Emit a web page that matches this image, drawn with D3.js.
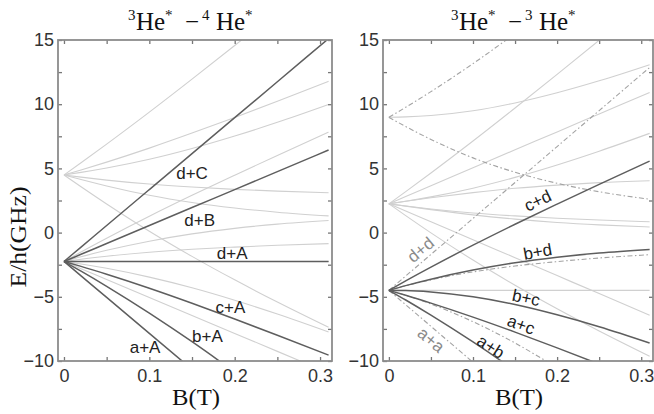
<!DOCTYPE html>
<html>
<head>
<meta charset="utf-8">
<script src="https://cdn.jsdelivr.net/npm/d3@7"></script>
<style>
  body { margin: 0; background: #fff; }
  svg { display: block; }
</style>
</head>
<body>
<svg id="chart" width="654" height="414"></svg>
<script>
// magnetic field grid, tesla
const bField = [0, 0.02, 0.05, 0.1, 0.15, 0.2, 0.25, 0.31];

// 3He* 2^3S1 sublevels (GHz), F=3/2: a..d, F=1/2: e, f
const he3a = [-2.25, -2.81, -3.65, -5.05, -6.45, -7.85, -9.25, -10.93];
const he3b = [-2.25, -2.44, -2.78, -3.47, -4.30, -5.27, -6.34, -7.74];
const he3c = [-2.25, -2.07, -1.84, -1.53, -1.30, -1.13, -0.99, -0.86];
const he3d = [-2.25, -1.69, -0.85, 0.55, 1.95, 3.35, 4.75, 6.43];
const he3e = [4.49, 4.88, 5.49, 6.58, 7.75, 8.97, 10.23, 11.78];
const he3f = [4.49, 4.13, 3.63, 2.91, 2.35, 1.92, 1.59, 1.30];
// 4He* 2^3S1, mJ = -1, 0, +1
const he4A = [0, -0.56, -1.4, -2.8, -4.2, -5.6, -7.0, -8.68];
const he4B = [0, 0, 0, 0, 0, 0, 0, 0];
const he4C = [0, 0.56, 1.4, 2.8, 4.2, 5.6, 7.0, 8.68];

// pair channels
const leftDark = ["d+C", "d+B", "d+A", "c+A", "b+A", "a+A"];
const leftLight = ["a+B", "a+C", "b+B", "b+C", "c+B", "c+C", "e+A", "e+B", "e+C", "f+A", "f+B", "f+C"];
const rightDark = ["c+d", "b+d", "b+c", "a+c", "a+b"];
const rightLight = ["a+d", "a+e", "a+f", "b+e", "b+f", "c+e", "c+f", "d+e", "d+f", "e+f"];
const rightSame = ["a+a", "b+b", "c+c", "d+d", "e+e", "f+f"];

// curve labels (B, E) and rotation
const leftLabelText = ["d+C", "d+B", "d+A", "c+A", "b+A", "a+A"];
const leftLabelB = [0.150, 0.159, 0.197, 0.195, 0.168, 0.095];
const leftLabelE = [4.64, 0.98, -1.59, -5.87, -8.13, -8.91];
const rightLabelText = ["c+d", "b+d", "b+c", "a+c", "a+b", "d+d", "a+a"];
const rightLabelB = [0.177, 0.177, 0.163, 0.157, 0.121, 0.038, 0.050];
const rightLabelE = [2.46, -1.51, -5.09, -7.19, -8.91, -1.36, -8.37];
const rightLabelRot = [-26, -10, 12, 20, 33, -40, 40];

const xTicks = [0, 0.05, 0.1, 0.15, 0.2, 0.25, 0.3];
const yTicks = [-10, -7.5, -5, -2.5, 0, 2.5, 5, 7.5, 10, 12.5, 15];

const levels = { a: he3a, b: he3b, c: he3c, d: he3d, e: he3e, f: he3f, A: he4A, B: he4B, C: he4C };

function pairSeries(name) {
  const [p, q] = name.split("+");
  return bField.map((b, i) => levels[p][i] + levels[q][i]);
}

const svg = d3.select("#chart");
const plotTop = 40, plotBottom = 361;
const y = d3.scaleLinear().domain([-10, 15]).range([plotBottom, plotTop]);

const darkColor = "#5e5e5e", lightColor = "#d0d0d0", dashColor = "#a3a3a3";
const tickFont = "Liberation Sans, Arial, sans-serif";
const serif = "Liberation Serif, Times New Roman, serif";

function drawPanel(id, x0, x1, title) {
  const x = d3.scaleLinear().domain([-0.007, 0.314]).range([x0, x1]);
  const g = svg.append("g");
  const cx = (x0 + x1) / 2;

  g.append("clipPath").attr("id", "clip" + id)
    .append("rect").attr("x", x0).attr("y", plotTop).attr("width", x1 - x0).attr("height", plotBottom - plotTop);

  const line = d3.line()
    .x((d, i) => x(bField[i]))
    .y(d => y(d))
    .curve(d3.curveMonotoneX);

  const plot = g.append("g").attr("clip-path", "url(#clip" + id + ")");

  // axes, ticks inward on four sides
  const fmtX = d => Math.abs(d * 10 - Math.round(d * 10)) < 1e-6 ? (d === 0 ? "0" : d.toFixed(1)) : "";
  const fmtY = d => d % 5 === 0 ? d3.format("d")(d) : "";

  const ax = [
    g.append("g").attr("transform", `translate(0,${plotBottom})`)
      .call(d3.axisBottom(x).tickValues(xTicks).tickSize(-4).tickPadding(8).tickFormat(fmtX)),
    g.append("g").attr("transform", `translate(0,${plotTop})`)
      .call(d3.axisTop(x).tickValues(xTicks).tickSize(-4).tickFormat("")),
    g.append("g").attr("transform", `translate(${x0},0)`)
      .call(d3.axisLeft(y).tickValues(yTicks).tickSize(-4).tickPadding(4).tickFormat(fmtY)),
    g.append("g").attr("transform", `translate(${x1},0)`)
      .call(d3.axisRight(y).tickValues(yTicks).tickSize(-4).tickFormat(""))
  ];
  ax.forEach(a => {
    a.select(".domain").remove();
    a.selectAll(".tick line").attr("stroke", "#777").attr("stroke-width", 1.3);
    a.selectAll("text").attr("font-family", tickFont).attr("font-size", 18).attr("fill", "#333");
  });

  g.append("rect")
    .attr("x", x0).attr("y", plotTop)
    .attr("width", x1 - x0).attr("height", plotBottom - plotTop)
    .attr("fill", "none").attr("stroke", "#8c8c8c").attr("stroke-width", 1.8);

  // title, pieces placed like the typeset original
  const t = g.append("text")
    .attr("font-family", serif).attr("font-size", 25).attr("fill", "#111");
  title.forEach(part => {
    t.append("tspan")
      .attr("x", cx + part.dx)
      .attr("y", part.sup ? 20 : 30)
      .attr("font-size", part.sup ? 15 : 25)
      .text(part.text);
  });

  // x label
  g.append("text")
    .attr("x", cx + 1).attr("y", 405)
    .attr("text-anchor", "middle")
    .attr("font-family", serif).attr("font-size", 23).attr("fill", "#111")
    .attr("textLength", 48).attr("lengthAdjust", "spacingAndGlyphs")
    .text("B(T)");

  return { x, g, plot, line };
}

function titleParts(second) {
  return [
    { text: "3", sup: true, dx: -67 }, { text: "He", dx: -59 }, { text: "*", sup: true, dx: -30 },
    { text: "\u2212", dx: -10 }, { text: second, sup: true, dx: 7 }, { text: "He", dx: 21 }, { text: "*", sup: true, dx: 50 }
  ];
}

// left panel: 3He* - 4He*
const L = drawPanel("L", 58, 332, titleParts("4"));

L.plot.selectAll("path.light").data(leftLight).enter().append("path")
  .attr("class", "light")
  .attr("d", d => L.line(pairSeries(d)))
  .attr("fill", "none").attr("stroke", lightColor).attr("stroke-width", 1.1);
L.plot.selectAll("path.dark").data(leftDark).enter().append("path")
  .attr("class", "dark")
  .attr("d", d => L.line(pairSeries(d)))
  .attr("fill", "none").attr("stroke", darkColor).attr("stroke-width", 1.5);

L.g.selectAll("text.lab").data(leftLabelText).enter().append("text")
  .attr("class", "lab")
  .attr("x", (d, i) => L.x(leftLabelB[i]))
  .attr("y", (d, i) => y(leftLabelE[i]))
  .attr("text-anchor", "middle").attr("dominant-baseline", "central")
  .attr("font-family", tickFont).attr("font-size", 17).attr("fill", "#222")
  .text(d => d);

// right panel: 3He* - 3He*
const R = drawPanel("R", 383, 653, titleParts("3"));

R.plot.selectAll("path.light").data(rightLight).enter().append("path")
  .attr("class", "light")
  .attr("d", d => R.line(pairSeries(d)))
  .attr("fill", "none").attr("stroke", lightColor).attr("stroke-width", 1.1);
R.plot.selectAll("path.same").data(rightSame).enter().append("path")
  .attr("class", "same")
  .attr("d", d => R.line(pairSeries(d)))
  .attr("fill", "none").attr("stroke", dashColor).attr("stroke-width", 1.1)
  .attr("stroke-dasharray", "5,2.5,1.5,2.5");
R.plot.selectAll("path.dark").data(rightDark).enter().append("path")
  .attr("class", "dark")
  .attr("d", d => R.line(pairSeries(d)))
  .attr("fill", "none").attr("stroke", darkColor).attr("stroke-width", 1.5);

R.g.selectAll("text.lab").data(rightLabelText).enter().append("text")
  .attr("class", "lab")
  .attr("transform", (d, i) => `translate(${R.x(rightLabelB[i])},${y(rightLabelE[i])}) rotate(${rightLabelRot[i]})`)
  .attr("text-anchor", "middle").attr("dominant-baseline", "central")
  .attr("font-family", tickFont).attr("font-size", 17)
  .attr("fill", (d, i) => i >= 5 ? "#8a8a8a" : "#222")
  .text(d => d);

// y label
svg.append("text")
  .attr("transform", "translate(26,237) rotate(-90)")
  .attr("text-anchor", "middle")
  .attr("font-family", serif).attr("font-size", 23).attr("fill", "#111")
  .attr("textLength", 101).attr("lengthAdjust", "spacingAndGlyphs")
  .text("E/h(GHz)");
</script>
</body>
</html>
